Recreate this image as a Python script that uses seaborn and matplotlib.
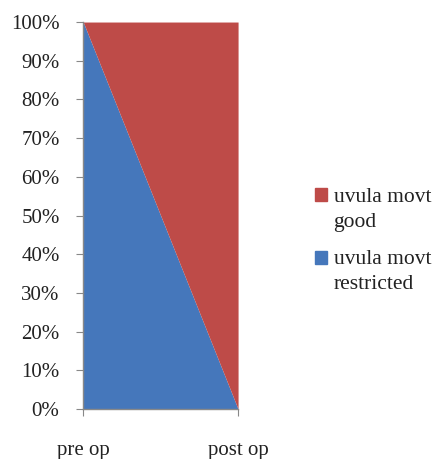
import numpy as np
import seaborn as sns
import matplotlib.pyplot as plt
from matplotlib.ticker import PercentFormatter
from matplotlib.patches import Patch, Rectangle
from matplotlib.legend_handler import HandlerPatch

# Datos
categorias = ['pre op', 'post op']
restringido = [100, 0]
bueno = [0, 100]
etiquetas = ['uvula movt\nrestricted', 'uvula movt\ngood']
colores = ['#4577BB', '#BE4B48']

sns.set_style('white')
plt.rcParams['font.family'] = ['Liberation Serif', 'DejaVu Serif']

fig = plt.figure(figsize=(4.45, 4.59), dpi=100)
ax = fig.add_axes([0.187, 0.109, 0.348, 0.843])

x = np.arange(len(categorias))
ax.stackplot(x, restringido, bueno, colors=colores, linewidth=0)

ax.set_xlim(0, 1)
ax.set_ylim(0, 100)
ax.set_yticks(np.arange(0, 101, 10))
ax.yaxis.set_major_formatter(PercentFormatter(decimals=0))
ax.set_xticks(x)
ax.set_xticklabels(categorias)

for s in ['top', 'right']:
    ax.spines[s].set_visible(False)
for s in ['left', 'bottom']:
    ax.spines[s].set_color('#888888')
    ax.spines[s].set_linewidth(1)

ax.tick_params(axis='y', which='major', left=True, length=5, color='#888888',
               labelsize=15, pad=12, labelcolor='#222222')
ax.tick_params(axis='x', which='major', bottom=True, length=5, color='#888888',
               labelsize=15, pad=18, labelcolor='#222222')


# marcador alineado con la primera linea del texto (como Excel)
def marcador_arriba(legend, orig_handle, xdescent, ydescent, width, height, fontsize):
    return Rectangle((-xdescent, -ydescent + 0.66 * fontsize), width, height)


handles = [Patch(color=colores[1], label=etiquetas[1]),
           Patch(color=colores[0], label=etiquetas[0])]
leg = fig.legend(handles=handles, loc='center left', bbox_to_anchor=(0.665, 0.475),
                 frameon=False, fontsize=15.5, handlelength=0.55, handleheight=0.55,
                 handletextpad=0.3, labelspacing=0.85, labelcolor='#222222',
                 handler_map={Patch: HandlerPatch(patch_func=marcador_arriba)})
for t in leg.get_texts():
    t.set_linespacing(1.45)

fig.savefig('out.png', dpi=100)
